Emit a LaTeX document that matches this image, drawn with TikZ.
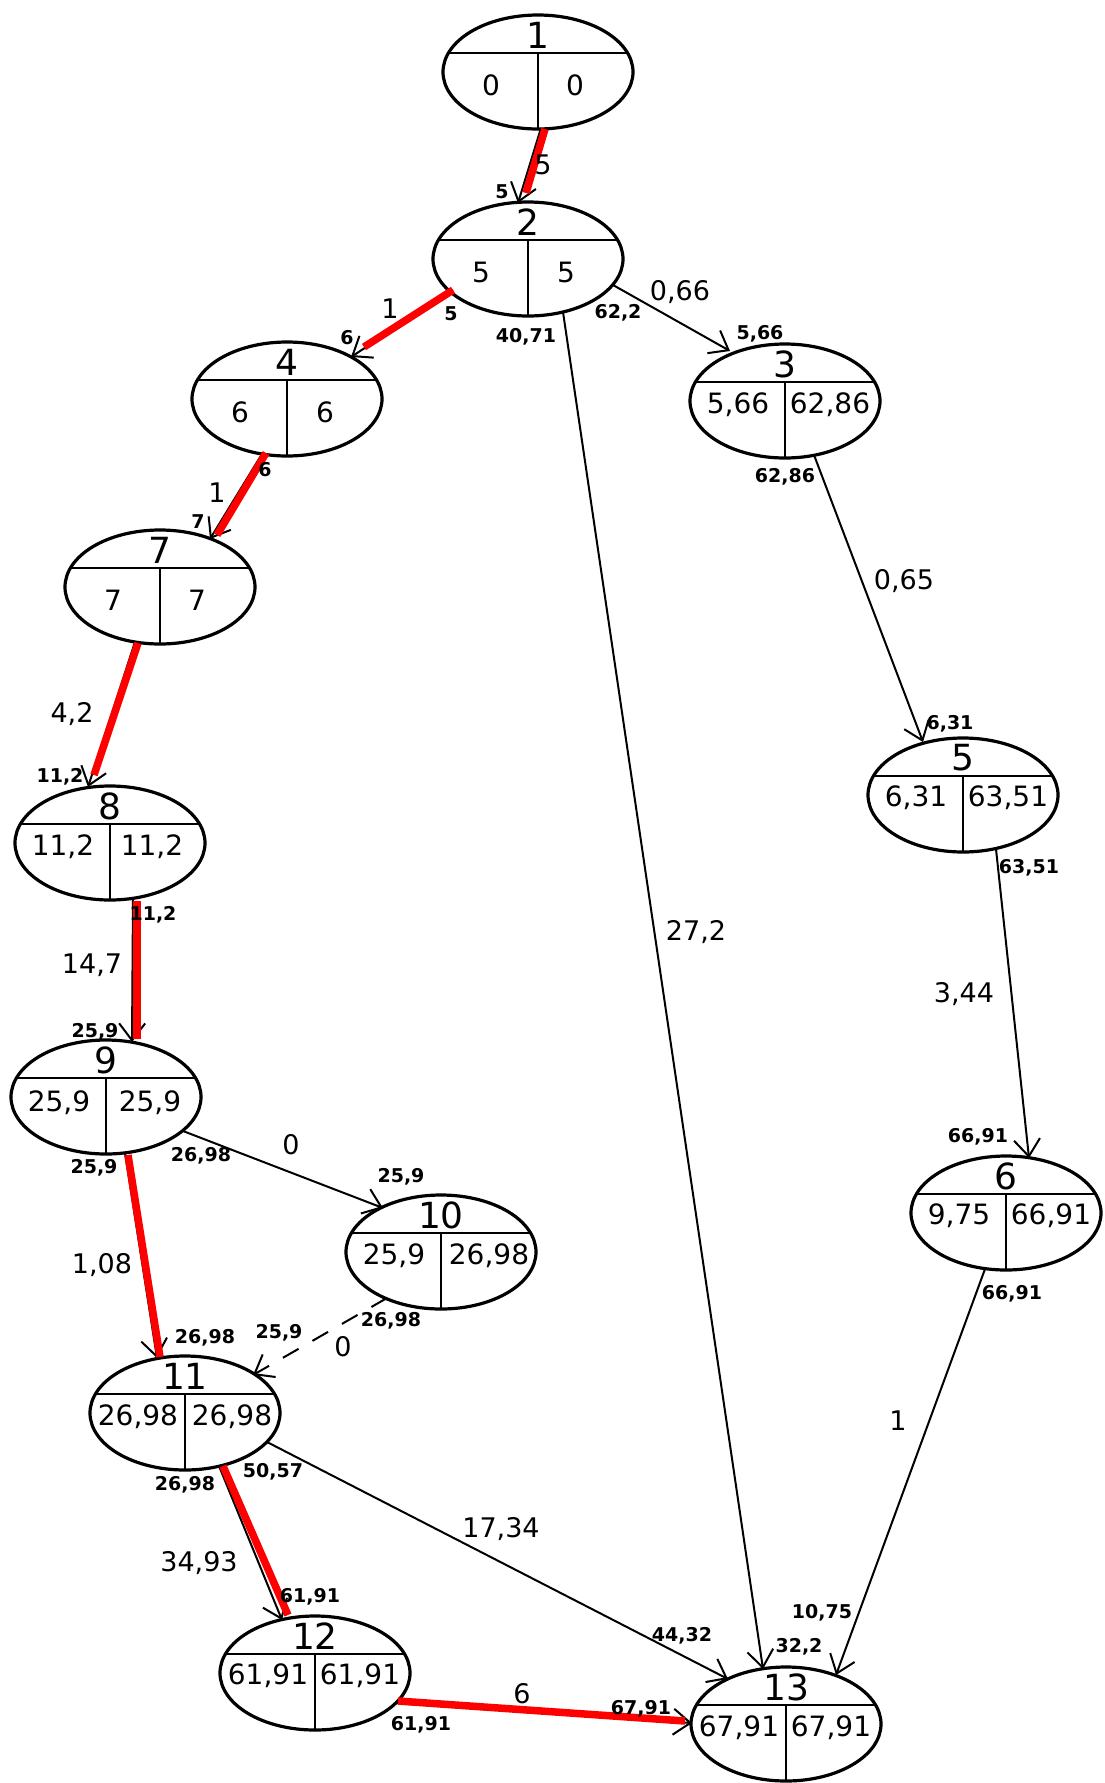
\documentclass[tikz,border=0pt]{standalone}
\usepackage{fontspec}
\setmainfont{DejaVu Sans}
\usetikzlibrary{arrows.meta,calc,shapes.geometric}
\newcommand\evnode[7]{%
  \node[ev] (#1) at (#2) {};
  \draw[div] ($(#1)+(-89.6,-19)$) -- ($(#1)+(89.6,-19)$);
  \draw[div] ($(#1)+(0,-19)$) -- ($(#1)+(0,57)$);
  \node[num] (#1-n) at ($(#1)+(0,-37)$) {#3};
  \node[val] (#1-l) at ($(#1)+(-47,#7)$) {#4};
  \node[val] (#1-r) at ($(#1)+(#6,#7)$) {#5};
}
\begin{document}
\begin{tikzpicture}[x=1pt,y=-1pt,
  ev/.style={ellipse,draw,line width=3.2pt,minimum width=190pt,minimum height=114pt,inner sep=0pt},
  div/.style={line width=2.2pt},
  num/.style={font=\fontsize{36}{40}\selectfont,inner sep=0pt},
  val/.style={font=\fontsize{28}{32}\selectfont,inner sep=0pt},
  elab/.style={font=\fontsize{27}{30}\selectfont,inner sep=0pt},
  slab/.style={font=\fontsize{19}{21}\selectfont\bfseries,inner sep=0pt},
  arr/.style={line width=2pt,-{Straight Barb[length=17pt,width=26pt,line width=2pt]}},
  dasharr/.style={arr,dash pattern=on 18pt off 16pt},
  crit/.style={draw=red,line width=7.5pt}]
\fill[white] (0,0) rectangle (1104,1783);
\useasboundingbox (0,0) rectangle (1104,1783);

% nodes
\evnode{n1}{538,72}{1}{0}{0}{37}{13}
\evnode{n2}{528,259}{2}{5}{5}{38}{13}
\evnode{n3}{785,401}{3}{5,66}{62,86}{45}{4}
\evnode{n4}{287,399}{4}{6}{6}{38}{13}
\evnode{n5}{963,795}{5}{6,31}{63,51}{45}{3}
\evnode{n6}{1006,1213}{6}{9,75}{66,91}{45}{3}
\evnode{n7}{160,587}{7}{7}{7}{37}{13}
\evnode{n8}{110,843}{8}{11,2}{11,2}{42}{4}
\evnode{n9}{106,1097}{9}{25,9}{25,9}{44}{6}
\evnode{n10}{441,1252}{10}{25,9}{26,98}{48}{4}
\evnode{n11}{185,1413}{11}{26,98}{26,98}{47}{4}
\evnode{n12}{315,1673}{12}{61,91}{61,91}{45}{3}
\evnode{n13}{786,1724}{13}{67,91}{67,91}{45}{4}

% edges
\draw[arr] ($(n1)+(3,56)$) -- ($(n2)+(-10,-56)$);
\draw[arr] ($(n2)+(-75,31)$) -- ($(n4)+(64,-42)$);
\draw[arr] ($(n2)+(85,26)$) -- ($(n3)+(-55,-50)$);
\draw[arr] ($(n2)+(35,53)$) -- ($(n13)+(-23,-55)$);
\draw[arr] ($(n4)+(-25,55)$) -- ($(n7)+(50,-48)$);
\draw[arr] ($(n3)+(29,54)$) -- ($(n5)+(-40,-53)$);
\draw[arr] ($(n7)+(-25,55)$) -- ($(n8)+(-22,-56)$);
\draw[arr] ($(n8)+(23,56)$) -- ($(n9)+(26,-55)$);
\draw[arr] ($(n5)+(33,54)$) -- ($(n6)+(23,-55)$);
\draw[arr] ($(n9)+(77,34)$) -- ($(n10)+(-58,-44)$);
\draw[arr] ($(n9)+(19,56)$) -- ($(n11)+(-28,-55)$);
\draw[dasharr] ($(n10)+(-54,46)$) -- ($(n11)+(68,-38)$);
\draw[arr] ($(n6)+(-21,56)$) -- ($(n13)+(50,-49)$);
\draw[arr] ($(n11)+(34,53)$) -- ($(n12)+(-33,-53)$);
\draw[arr] ($(n11)+(82,29)$) -- ($(n13)+(-58,-45)$);
\draw[arr] ($(n12)+(81,30)$) -- ($(n13)+(-94,-1)$);

% critical path overlay
\draw[crit] ($(n1)+(7,57)$) -- ($(n2)+(-2,-66)$);
\draw[crit] ($(n2)+(-75,31)$) -- ($(n4)+(77,-52)$);
\draw[crit] ($(n4)+(-21,54)$) -- ($(n7)+(57,-52)$);
\draw[crit] ($(n7)+(-22,56)$) -- ($(n8)+(-16,-68)$);
\draw[crit] ($(n8)+(27,58)$) -- ($(n9)+(31,-58)$);
\draw[crit] ($(n9)+(22,58)$) -- ($(n11)+(-25,-56)$);
\draw[crit] ($(n11)+(38,53)$) -- ($(n12)+(-27,-58)$);
\draw[crit] ($(n12)+(83,28)$) -- ($(n13)+(-101,-3)$);

% edge labels (durations)
\node[elab] (d12) at (543,165) {5};
\node[elab] (d24) at (390,309) {1};
\node[elab] (d23) at (680,292) {0,66};
\node[elab] (d213) at (696,932) {27,2};
\node[elab] (d47) at (217,493) {1};
\node[elab] (d35) at (904,581) {0,65};
\node[elab] (d78) at (72,714) {4,2};
\node[elab] (d89) at (92,965) {14,7};
\node[elab] (d56) at (964,994) {3,44};
\node[elab] (d910) at (291,1145) {0};
\node[elab] (d911) at (102,1265) {1,08};
\node[elab] (d1011) at (343,1347) {0};
\node[elab] (d613) at (898,1421) {1};
\node[elab] (d1112) at (199,1563) {34,93};
\node[elab] (d1113) at (501,1529) {17,34};
\node[elab] (d1213) at (522,1694) {6};

% small labels (times)
\node[slab] (s12b) at (502,192) {5};
\node[slab] (s24a) at (451,314) {5};
\node[slab] (s24b) at (347,338) {6};
\node[slab] (s23a) at (618,313) {62,2};
\node[slab] (s23b) at (760,334) {5,66};
\node[slab] (s213a) at (526,337) {40,71};
\node[slab] (s213b) at (799,1647) {32,2};
\node[slab] (s47a) at (265,470) {6};
\node[slab] (s47b) at (198,522) {7};
\node[slab] (s35a) at (785,477) {62,86};
\node[slab] (s35b) at (950,724) {6,31};
\node[slab] (s78b) at (60,777) {11,2};
\node[slab] (s89a) at (153,915) {11,2};
\node[slab] (s89b) at (95,1032) {25,9};
\node[slab] (s56a) at (1029,868) {63,51};
\node[slab] (s56b) at (978,1137) {66,91};
\node[slab] (s910a) at (201,1156) {26,98};
\node[slab] (s910b) at (401,1177) {25,9};
\node[slab] (s911a) at (94,1168) {25,9};
\node[slab] (s911b) at (205,1338) {26,98};
\node[slab] (s1011a) at (391,1321) {26,98};
\node[slab] (s1011b) at (279,1333) {25,9};
\node[slab] (s613a) at (1012,1294) {66,91};
\node[slab] (s613b) at (822,1613) {10,75};
\node[slab] (s1112a) at (185,1485) {26,98};
\node[slab] (s1112b) at (310,1597) {61,91};
\node[slab] (s1113a) at (273,1472) {50,57};
\node[slab] (s1113b) at (682,1636) {44,32};
\node[slab] (s1213a) at (421,1725) {61,91};
\node[slab] (s1213b) at (641,1709) {67,91};
\end{tikzpicture}
\end{document}
